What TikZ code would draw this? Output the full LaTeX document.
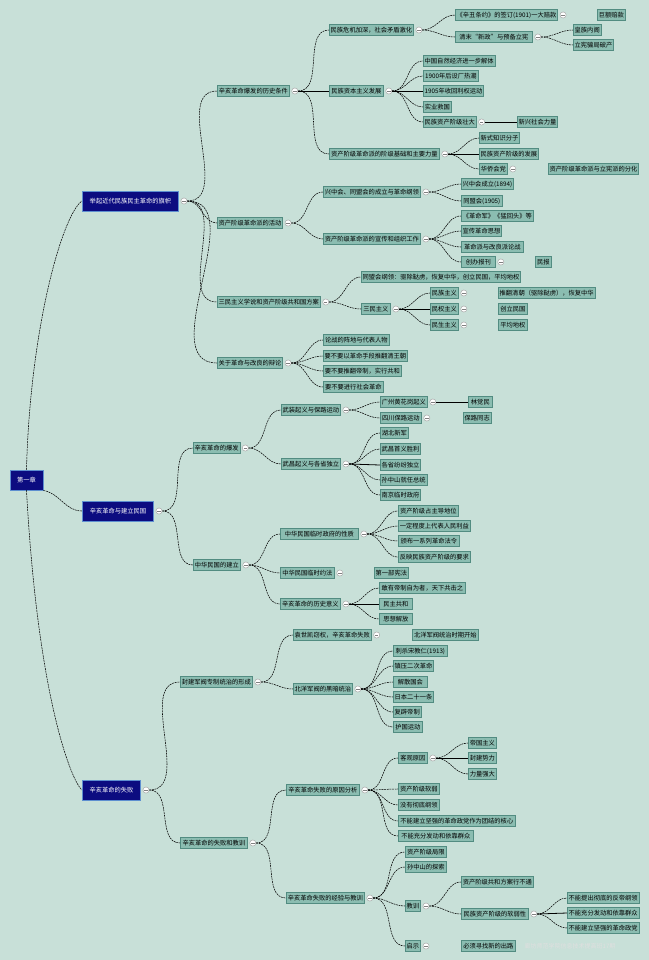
\documentclass[tikz,border=0pt]{standalone}
\usepackage{fontspec}
\setmainfont{Noto Sans CJK SC}
\usetikzlibrary{calc}
\definecolor{bg}{HTML}{C8E0D8}
\definecolor{nf}{HTML}{8BBDB1}
\definecolor{nd}{HTML}{528C81}
\definecolor{bf}{HTML}{0C0C80}
\definecolor{bd}{HTML}{5E8FD0}
\tikzset{
 box/.style={draw=nd, fill=nf, line width=0.55pt, inner sep=1pt, minimum height=8pt, font=\fontsize{4.7}{5.5}\selectfont, text=black},
 bbox/.style={draw=bd, fill=bf, line width=0.7pt, inner sep=1pt, minimum height=15pt, font=\fontsize{4.7}{5.5}\selectfont, text=white},
 cirs/.style={circle, draw=gray!70, fill=white, line width=0.35pt, minimum size=4.6pt, inner sep=0pt,
   path picture={\draw[gray, line width=0.35pt] ([xshift=-1.3pt]path picture bounding box.center) -- ([xshift=1.3pt]path picture bounding box.center);}},
 conn/.style={line width=0.4pt, dash pattern=on 1.4pt off 0.6pt},
 sconn/.style={line width=0.6pt},
}
\newcommand\bx[5]{\node[box, anchor=west, minimum width={(#3-#2)*0.75pt}] (#1) at (#2,#4) {#5};}
\newcommand\bb[5]{\node[bbox, anchor=west, minimum width={(#3-#2)*0.75pt}] (#1) at (#2,#4) {#5};}
\newcommand\cir[1]{\node[cirs] (c#1) at ([xshift=3.8pt]#1.east) {};}
\newcommand\ed[2]{\draw[conn] (c#1.east) to[out=0,in=180] (#2.west);}
\newcommand\es[2]{\draw[sconn] (c#1.east) -- (#2.west);}
\begin{document}
\begin{tikzpicture}[x=0.75pt,y=-0.75pt]
\fill[bg] (0,0) rectangle (649,960);
\useasboundingbox (0,0) rectangle (649,960);

% root and chapter sections
\node[bbox, minimum width=24.75pt] (root) at (26.5,480) {第一章};
\bb{B1}{82}{178}{201}{举起近代民族民主革命的旗帜}
\bb{B2}{82}{153}{511}{辛亥革命与建立民国}
\bb{B3}{82}{140}{790}{辛亥革命的失败}

% ---------- section 1 ----------
\bx{A}{217}{289}{91}{辛亥革命爆发的历史条件}
\bx{Bn}{217}{282}{223}{资产阶级革命派的活动}
\bx{Cn}{217}{319}{302}{三民主义学说和资产阶级共和国方案}
\bx{Dn}{217}{280}{363}{关于革命与改良的辩论}

\bx{Aa}{329}{412}{30}{民族危机加深，社会矛盾激化}
\bx{Ab}{329}{383}{91}{民族资本主义发展}
\bx{Ac}{329}{439}{154}{资产阶级革命派的阶级基础和主要力量}

\bx{Aaa}{455}{557}{15}{《辛丑条约》的签订(1901)一大赔款}
\bx{Aaf}{597}{625}{15}{巨额赔款}
\bx{Aab}{455}{532}{37}{清末“新政”与预备立宪}
\bx{Aab1}{573}{600}{30}{皇族内阁}
\bx{Aab2}{573}{613}{45}{立宪骗局破产}

\bx{Ab1}{423}{494}{61}{中国自然经济进一步解体}
\bx{Ab2}{423}{478}{76}{1900年后设厂热潮}
\bx{Ab3}{423}{478}{91}{1905年收回利权运动}
\bx{Ab4}{423}{451}{107}{实业救国}
\bx{Ab5}{423}{475}{122}{民族资产阶级壮大}
\bx{Ab5a}{517}{552}{122}{新兴社会力量}

\bx{Ac1}{479}{518}{138}{新式知识分子}
\bx{Ac2}{479}{538}{154}{民族资产阶级的发展}
\bx{Ac3}{479}{507}{169}{华侨会党}
\bx{Acf}{548}{638}{169}{资产阶级革命派与立宪派的分化}

\bx{Ba}{323}{420}{192}{兴中会、同盟会的成立与革命纲领}
\bx{Bb}{323}{420}{239}{资产阶级革命派的宣传和组织工作}
\bx{Ba1}{461}{513}{184}{兴中会成立(1894)}
\bx{Ba2}{461}{502}{201}{同盟会(1905)}
\bx{Bb1}{461}{533}{216}{《革命军》《猛回头》等}
\bx{Bb2}{461}{495}{231}{宣传革命思想}
\bx{Bb3}{461}{523}{247}{革命派与改良派论战}
\bx{Bb4}{461}{495}{262}{创办报刊}
\bx{Bbf}{535}{551}{262}{民报}

\bx{Ca}{361}{516}{277}{同盟会纲领：驱除鞑虏，恢复中华，创立民国，平均地权}
\bx{Cb}{361}{390}{309}{三民主义}
\bx{Cb1}{430}{458}{293}{民族主义}
\bx{Cb2}{430}{458}{309}{民权主义}
\bx{Cb3}{430}{458}{325}{民生主义}
\bx{Cf1}{498}{590}{293}{推翻清朝（驱除鞑虏），恢复中华}
\bx{Cf2}{498}{527}{309}{创立民国}
\bx{Cf3}{498}{527}{325}{平均地权}

\bx{Da}{323}{389}{340}{论战的阵地与代表人物}
\bx{Db}{323}{407}{356}{要不要以革命手段推翻清王朝}
\bx{Dc}{323}{401}{371}{要不要推翻帝制，实行共和}
\bx{Dd}{323}{383}{387}{要不要进行社会革命}

% ---------- section 2 ----------
\bx{E}{193}{239}{448}{辛亥革命的爆发}
\bx{F}{193}{240}{565}{中华民国的建立}
\bx{Ea}{281}{340}{410}{武装起义与保路运动}
\bx{Ea1}{380}{427}{402}{广州黄花岗起义}
\bx{Ea1a}{468}{492}{402}{林觉民}
\bx{Ea2}{380}{421}{418}{四川保路运动}
\bx{Ea2f}{463}{490}{418}{保路同志}
\bx{Eb}{281}{340}{464}{武昌起义与各省独立}
\bx{Eb1}{380}{408}{433}{湖北新军}
\bx{Eb2}{380}{415}{449}{武昌首义胜利}
\bx{Eb3}{380}{414}{465}{各省纷纷独立}
\bx{Eb4}{380}{421}{480}{孙中山就任总统}
\bx{Eb5}{380}{419}{495}{南京临时政府}

\bx{Fa}{280}{358}{534}{中华民国临时政府的性质}
\bx{Fa1}{398}{458}{511}{资产阶级占主导地位}
\bx{Fa2}{398}{470}{526}{一定程度上代表人民利益}
\bx{Fa3}{398}{459}{541}{颁布一系列革命法令}
\bx{Fa4}{398}{470}{557}{反映民族资产阶级的要求}
\bx{Fb}{280}{334}{573}{中华民国临时约法}
\bx{Fbf}{374}{408}{573}{第一部宪法}
\bx{Fc}{280}{340}{604}{辛亥革命的历史意义}
\bx{Fc1}{379}{465}{588}{敢有帝制自为者，天下共击之}
\bx{Fc2}{379}{412}{604}{民主共和}
\bx{Fc3}{379}{412}{619}{思想解放}

% ---------- section 3 ----------
\bx{G}{180}{252}{682}{封建军阀专制统治的形成}
\bx{Ga}{293}{370}{635}{袁世凯窃权，辛亥革命失败}
\bx{Gaf}{412}{478}{635}{北洋军阀统治时期开始}
\bx{Gb}{293}{352}{689}{北洋军阀的黑暗统治}
\bx{Gb1}{393}{447}{651}{刺杀宋教仁(1913)}
\bx{Gb2}{393}{427}{666}{镇压二次革命}
\bx{Gb3}{393}{427}{682}{解散国会}
\bx{Gb4}{393}{433}{697}{日本二十一条}
\bx{Gb5}{393}{420}{712}{复辟帝制}
\bx{Gb6}{393}{422}{727}{护国运动}

\bx{H}{180}{247}{843}{辛亥革命的失败和教训}
\bx{Ha}{286}{359}{790}{辛亥革命失败的原因分析}
\bx{Ha1}{398}{427}{758}{客观原因}
\bx{Ha1a}{468}{496}{743}{帝国主义}
\bx{Ha1b}{468}{496}{758}{封建势力}
\bx{Ha1c}{468}{496}{774}{力量强大}
\bx{Ha2}{398}{439}{789}{资产阶级软弱}
\bx{Ha3}{398}{439}{805}{没有彻底纲领}
\bx{Ha4}{398}{515}{821}{不能建立坚强的革命政党作为团结的核心}
\bx{Ha5}{398}{473}{836}{不能充分发动和依靠群众}
\bx{Hb}{286}{364}{898}{辛亥革命失败的经验与教训}
\bx{Hb1}{405}{446}{852}{资产阶级局限}
\bx{Hb2}{405}{446}{867}{孙中山的探索}
\bx{Hb3}{405}{418}{906}{教训}
\bx{Hb3a}{461}{533}{882}{资产阶级共和方案行不通}
\bx{Hb3b}{461}{528}{914}{民族资产阶级的软弱性}
\bx{Hb3b1}{567}{638}{898}{不能提出彻底的反帝纲领}
\bx{Hb3b2}{567}{638}{913}{不能充分发动和依靠群众}
\bx{Hb3b3}{567}{638}{928}{不能建立坚强的革命政党}
\bx{Hb4}{405}{420}{946}{启示}
\bx{Hbf}{461}{515}{946}{必须寻找新的出路}

% ---------- collapse circles ----------
\foreach \n in {B1,B2,B3,A,Bn,Cn,Dn,Aa,Ab,Ac,Aaa,Aab,Ab5,Ac3,Ba,Bb,Bb4,Cb,Cb1,Cb2,Cb3,
  E,F,Ea,Ea1,Ea2,Eb,Fa,Fb,Fc,G,Ga,Gb,H,Ha,Ha1,Hb,Hb3,Hb3b,Hb4}{\cir{\n}}

% ---------- connectors ----------
\draw[conn] (root.north) .. controls (30,330) and (62,215) .. (B1.west);
\draw[conn] (root.south east) to[out=-10,in=180] (B2.west);
\draw[conn] (root.south) .. controls (38,700) and (72,782) .. (B3.west);

\ed{B1}{A}\ed{B1}{Bn}\ed{B1}{Cn}\ed{B1}{Dn}
\ed{A}{Aa}\es{A}{Ab}\ed{A}{Ac}
\ed{Aa}{Aaa}\ed{Aa}{Aab}
\ed{Aab}{Aab1}\ed{Aab}{Aab2}
\ed{Ab}{Ab1}\ed{Ab}{Ab2}\es{Ab}{Ab3}\ed{Ab}{Ab4}\ed{Ab}{Ab5}
\es{Ab5}{Ab5a}
\ed{Ac}{Ac1}\es{Ac}{Ac2}\ed{Ac}{Ac3}
\ed{Bn}{Ba}\ed{Bn}{Bb}
\ed{Ba}{Ba1}\ed{Ba}{Ba2}
\ed{Bb}{Bb1}\ed{Bb}{Bb2}\ed{Bb}{Bb3}\ed{Bb}{Bb4}
\ed{Cn}{Ca}\ed{Cn}{Cb}
\ed{Cb}{Cb1}\es{Cb}{Cb2}\ed{Cb}{Cb3}
\ed{Dn}{Da}\ed{Dn}{Db}\ed{Dn}{Dc}\ed{Dn}{Dd}

\ed{B2}{E}\ed{B2}{F}
\ed{E}{Ea}\ed{E}{Eb}
\ed{Ea}{Ea1}\ed{Ea}{Ea2}
\es{Ea1}{Ea1a}
\ed{Eb}{Eb1}\ed{Eb}{Eb2}\es{Eb}{Eb3}\ed{Eb}{Eb4}\ed{Eb}{Eb5}
\ed{F}{Fa}\ed{F}{Fb}\ed{F}{Fc}
\ed{Fa}{Fa1}\ed{Fa}{Fa2}\ed{Fa}{Fa3}\ed{Fa}{Fa4}
\ed{Fc}{Fc1}\es{Fc}{Fc2}\ed{Fc}{Fc3}

\ed{B3}{G}\ed{B3}{H}
\ed{G}{Ga}\ed{G}{Gb}
\ed{Gb}{Gb1}\ed{Gb}{Gb2}\ed{Gb}{Gb3}\ed{Gb}{Gb4}\ed{Gb}{Gb5}\ed{Gb}{Gb6}
\ed{H}{Ha}\ed{H}{Hb}
\ed{Ha}{Ha1}\ed{Ha}{Ha2}\ed{Ha}{Ha3}\ed{Ha}{Ha4}\ed{Ha}{Ha5}
\ed{Ha1}{Ha1a}\es{Ha1}{Ha1b}\ed{Ha1}{Ha1c}
\ed{Hb}{Hb1}\ed{Hb}{Hb2}\ed{Hb}{Hb3}\ed{Hb}{Hb4}
\ed{Hb3}{Hb3a}\ed{Hb3}{Hb3b}
\ed{Hb3b}{Hb3b1}\es{Hb3b}{Hb3b2}\ed{Hb3b}{Hb3b3}

% watermark
\node[anchor=west, text=white!75!gray, font=\fontsize{4.5}{5}\selectfont] (wm) at (520,946) {廊坊师范学院信息技术提高班17期};
\end{tikzpicture}
\end{document}
